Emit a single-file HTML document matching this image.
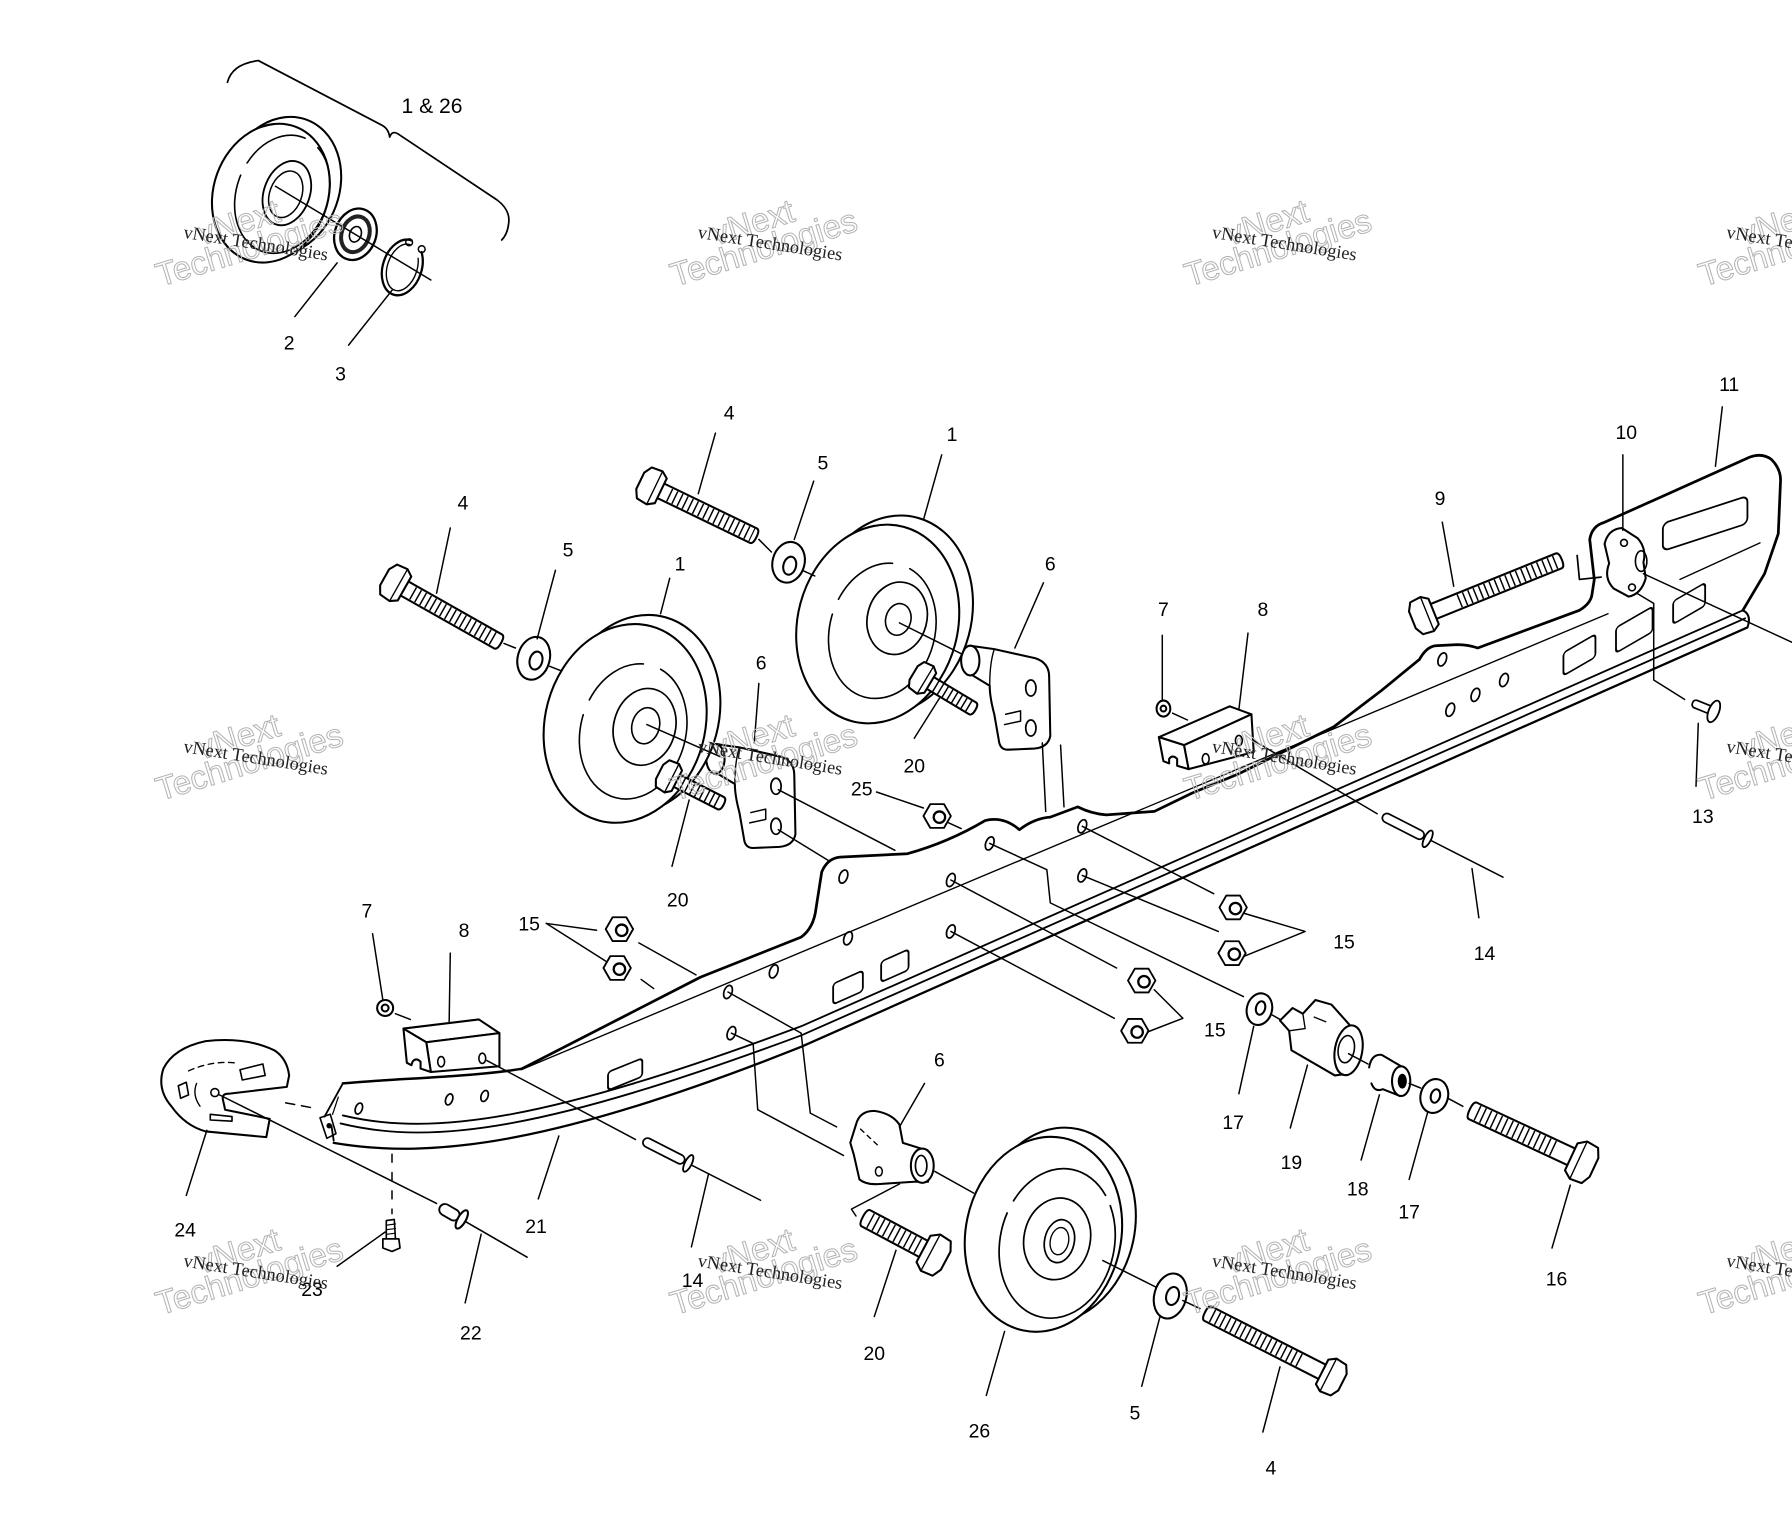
<!DOCTYPE html>
<html><head><meta charset="utf-8">
<style>
html,body{margin:0;padding:0;background:#fff;}
svg{display:block;}
</style></head><body>
<svg width="1792" height="1536" viewBox="0 0 1568 1344" xmlns="http://www.w3.org/2000/svg">
<rect width="1568" height="1344" fill="#fff"/>

<g fill="none" stroke="#000" stroke-width="1.8" stroke-linecap="round" stroke-linejoin="round">

<!-- ===== Top-left assembly ===== -->
<path d="M199,72 Q203,56 226,53 L335,110 Q340,113 341,120 Q343,114 348,117 L435,175 Q447,184 445,196 Q444,205 439,210" stroke-width="1.5"/>
<ellipse cx="247" cy="163" rx="50" ry="62" transform="rotate(20 247 163)" fill="#fff"/>
<ellipse cx="237" cy="169" rx="50" ry="62" transform="rotate(20 237 169)" fill="#fff"/>
<ellipse cx="247" cy="170" rx="40" ry="53" transform="rotate(20 247 170)" stroke-width="1.4" stroke-dasharray="150 12 60 14"/>
<ellipse cx="251" cy="169" rx="20" ry="29" transform="rotate(20 251 169)" stroke-width="1.6"/>
<ellipse cx="250" cy="170" rx="14" ry="21" transform="rotate(20 250 170)" stroke-width="1.3"/>
<ellipse cx="311" cy="205" rx="18" ry="23" transform="rotate(20 311 205)" fill="#fff" stroke-width="2"/>
<ellipse cx="311" cy="205" rx="12" ry="16" transform="rotate(20 311 205)" stroke-width="3.5" stroke="#222"/>
<ellipse cx="311" cy="205" rx="5" ry="7" transform="rotate(20 311 205)" stroke-width="1.4"/>
<line x1="241" y1="163" x2="377" y2="245" stroke-width="1.3"/>
<ellipse cx="352" cy="234" rx="17" ry="25" transform="rotate(18 352 234)" stroke-width="2" stroke-dasharray="100 14 40"/>
<ellipse cx="352" cy="234" rx="13" ry="21" transform="rotate(18 352 234)" stroke-width="1.2" stroke-dasharray="82 14 40"/>
<circle cx="358" cy="212" r="3" stroke-width="1.3"/>
<circle cx="369" cy="218" r="3" stroke-width="1.3"/>

<!-- ===== Rail ===== -->
<path d="M300,976 C380,995 480,980 701,898 L1525,534" stroke-width="1.6"/>
<path d="M298,983 C380,1003 480,988 701,906 L1527,541" stroke-width="1.6"/>
<path d="M292,1000 C380,1015 490,1000 701,916 L1529,549" stroke-width="2"/>
<path d="M1525,534 Q1533,538 1529,549"/>
<path d="M456,936 L1407,537" stroke-width="1.2"/>
<path d="M1470,507 L1540,475" stroke-width="1.2"/>
<path d="M300,948 C340,944 420,942 457,935" stroke-width="2.2"/>
<path d="M300,948 L284,977" stroke-width="1.6"/>
<path d="M296,960 L291,975" stroke-width="1.1"/>
<path d="M292,998 L290,985" stroke-width="1.6"/>
<path d="M280,978 L289,975 L294,992 L286,996 Z" stroke-width="1.4"/>
<circle cx="288" cy="985" r="1.5" fill="#000"/>
<path d="M457,935 L613,855 L701,820 Q712,812 714,795 L719,763 Q724,751 735,750 L794,747 Q830,737 862,718 Q878,714 892,726 Q905,716 919,715 L943,706 Q955,712 968,713 L1010,710 L1043,694 L1084,677 L1167,636 L1209,604 L1242,577 Q1248,566 1256,565 L1275,564 Q1285,564 1293,567 L1382,534 Q1392,528 1393,520 L1395,507 L1391,472 Q1393,460 1404,457 L1531,400 Q1542,396 1550,402 Q1558,410 1558,420 L1556,467 L1544,502 L1525,534" stroke-width="2.4"/>
<path d="M1380,486 L1382,507 L1401,505" stroke-width="1.5"/>

<!-- rail holes -->
<g stroke-width="1.5">
<ellipse cx="738" cy="767" rx="3.5" ry="6" transform="rotate(20 738 767)"/>
<ellipse cx="742" cy="821" rx="3.5" ry="6" transform="rotate(20 742 821)"/>
<ellipse cx="677" cy="850" rx="3.5" ry="6" transform="rotate(20 677 850)"/>
<ellipse cx="637" cy="868" rx="3.5" ry="6" transform="rotate(20 637 868)"/>
<ellipse cx="640" cy="904" rx="3.5" ry="6" transform="rotate(20 640 904)"/>
<ellipse cx="832" cy="770" rx="3.5" ry="6" transform="rotate(20 832 770)"/>
<ellipse cx="832" cy="815" rx="3.5" ry="6" transform="rotate(20 832 815)"/>
<ellipse cx="866" cy="738" rx="3.5" ry="6" transform="rotate(20 866 738)"/>
<ellipse cx="947" cy="723" rx="3.5" ry="6" transform="rotate(20 947 723)"/>
<ellipse cx="947" cy="766" rx="3.5" ry="6" transform="rotate(20 947 766)"/>
<ellipse cx="1262" cy="577" rx="3.5" ry="6" transform="rotate(20 1262 577)"/>
<ellipse cx="1269" cy="621" rx="3.5" ry="6" transform="rotate(20 1269 621)"/>
<ellipse cx="1291" cy="608" rx="3.5" ry="6" transform="rotate(20 1291 608)"/>
<ellipse cx="1316" cy="595" rx="3.5" ry="6" transform="rotate(20 1316 595)"/>
<ellipse cx="314" cy="970" rx="3" ry="5" transform="rotate(20 314 970)"/>
<ellipse cx="393" cy="962" rx="3" ry="5" transform="rotate(20 393 962)"/>
<ellipse cx="424" cy="959" rx="3" ry="5" transform="rotate(20 424 959)"/>
</g>
<!-- slots -->
<g stroke-width="1.6">
<rect x="-15" y="-8" width="30" height="16" rx="3" transform="translate(547,940) skewY(-22)"/>
<rect x="-13" y="-9" width="26" height="18" rx="3" transform="translate(742,864) skewY(-24)"/>
<rect x="-12" y="-9" width="24" height="18" rx="3" transform="translate(783,845) skewY(-24)"/>
<rect x="-14" y="-10" width="28" height="20" rx="3" transform="translate(1382,573) skewY(-30)"/>
<rect x="-16" y="-11" width="32" height="22" rx="3" transform="translate(1430,551) skewY(-30)"/>
<rect x="-14" y="-10" width="28" height="20" rx="3" transform="translate(1478,528) skewY(-30)"/>
<rect x="-37" y="-12" width="74" height="24" rx="5" transform="translate(1492,458) skewY(-18)"/>
</g>

<!-- Part 10 -->
<path d="M1404,476 Q1407,463 1419,462 L1433,471 Q1441,480 1438,492 L1440,506 Q1436,520 1425,522 L1412,515 Q1403,506 1408,493 Z" fill="#fff"/>
<circle cx="1421" cy="475" r="3" stroke-width="1.4"/>
<circle cx="1428" cy="514" r="3" stroke-width="1.4"/>
<ellipse cx="1436" cy="491" rx="5" ry="9" stroke-width="1.4"/>

<!-- Block 8 upper -->
<path d="M1014,645 L1076,618 L1095,625 L1036,652 Z" fill="#fff"/>
<path d="M1036,652 L1095,625 L1097,658 L1040,673 Z" fill="#fff"/>
<path d="M1014,645 L1036,652 L1040,673 L1030,670 L1030,664 Q1026,660 1023,664 L1023,668 L1018,666 Z" fill="#fff"/>
<ellipse cx="1055" cy="664" rx="3" ry="4.5" stroke-width="1.4"/>
<ellipse cx="1084" cy="648" rx="3" ry="4.5" stroke-width="1.4"/>

<!-- Block 8 lower -->
<path d="M353,900 L419,892 L437,904 L373,912 Z" fill="#fff"/>
<path d="M373,912 L437,904 L437,933 L377,938 Z" fill="#fff"/>
<path d="M353,900 L373,912 L377,938 L368,935 L368,929 Q364,925 361,929 L360,932 L356,930 Z" fill="#fff"/>
<ellipse cx="386" cy="929" rx="3" ry="4.5" stroke-width="1.4"/>
<ellipse cx="422" cy="926" rx="3" ry="4.5" stroke-width="1.4"/>

<!-- Part 24 -->
<path d="M251,951 L253,941 Q251,926 240,919 Q215,907 180,911 Q152,917 143,935 Q137,953 150,968 Q162,985 180,990 L233,995 L236,979 L197,971 L195,962 Q194,957 200,957 Z" fill="#fff"/>
<path d="M210,936 L230,931 L232,941 L212,945 Z" stroke-width="1.4"/>
<path d="M156,950 L163,947 L165,958 L158,961 Z" stroke-width="1.4"/>
<path d="M184,975 L203,977 L203,981 L184,980 Z" stroke-width="1.4"/>
<circle cx="188" cy="956" r="3.5" stroke-width="1.4"/>
<path d="M165,937 Q185,928 205,930" stroke-width="1.2" stroke-dasharray="5 4"/>
<path d="M175,968 Q168,958 172,948" stroke-width="1.2"/>

<!-- Brackets 6 (upper two) -->
<g>
 <path d="M849,565 L870,568 L906,576 Q918,580 918,592 L919,644 Q917,654 905,655 L882,656 Q875,656 874,648 L870,625 Q866,610 866,600 L851,591" fill="#fff"/>
 <ellipse cx="849" cy="578" rx="8" ry="13" fill="#fff"/>
 <path d="M880,625 L893,622 L893,631 L879,634" stroke-width="1.3"/>
 <ellipse cx="902" cy="602" rx="4.5" ry="7" stroke-width="1.5"/>
 <ellipse cx="902" cy="637" rx="4.5" ry="7" stroke-width="1.5"/>
 <path d="M870,568 Q866,580 866,600" stroke-width="1.2"/>
</g>
<g transform="translate(-223,86)">
 <path d="M849,565 L870,568 L906,576 Q918,580 918,592 L919,644 Q917,654 905,655 L882,656 Q875,656 874,648 L870,625 Q866,610 866,600 L851,591" fill="#fff"/>
 <ellipse cx="849" cy="578" rx="8" ry="13" fill="#fff"/>
 <path d="M880,625 L893,622 L893,631 L879,634" stroke-width="1.3"/>
 <ellipse cx="902" cy="602" rx="4.5" ry="7" stroke-width="1.5"/>
 <ellipse cx="902" cy="637" rx="4.5" ry="7" stroke-width="1.5"/>
 <path d="M870,568 Q866,580 866,600" stroke-width="1.2"/>
</g>

<!-- Bracket 6 lower -->
<path d="M749,984 Q752,972 765,972 Q780,974 787,984 L790,1000 L806,1005 L812,1034 L800,1034 L770,1036 Q758,1037 752,1032 L747,1010 L744,1000 Z" fill="#fff"/>
<ellipse cx="807" cy="1020" rx="10" ry="15" fill="#fff"/>
<ellipse cx="806" cy="1020" rx="5" ry="9" stroke-width="1.5"/>
<path d="M753,988 L770,1004" stroke-width="1.2" stroke-dasharray="4 4"/>
<ellipse cx="769" cy="1025" rx="3" ry="4" stroke-width="1.3"/>

<!-- Wheels -->
<g>
<ellipse cx="559" cy="625" rx="70" ry="88" transform="rotate(15 559 625)" fill="#fff"/>
<ellipse cx="547" cy="633" rx="70" ry="88" transform="rotate(15 547 633)" fill="#fff"/>
<ellipse cx="554" cy="640" rx="46" ry="60" transform="rotate(15 554 640)" stroke-width="1.4" stroke-dasharray="170 14 60 16"/>
<ellipse cx="564" cy="636" rx="27" ry="34" transform="rotate(15 564 636)" stroke-width="1.5"/>
<ellipse cx="565" cy="635" rx="12" ry="16" transform="rotate(15 565 635)" stroke-width="1.4"/>
</g>
<g>
<ellipse cx="780" cy="538" rx="70" ry="88" transform="rotate(15 780 538)" fill="#fff"/>
<ellipse cx="768" cy="546" rx="70" ry="88" transform="rotate(15 768 546)" fill="#fff"/>
<ellipse cx="772" cy="552" rx="46" ry="60" transform="rotate(15 772 552)" stroke-width="1.4" stroke-dasharray="170 14 60 16"/>
<ellipse cx="785" cy="541" rx="26" ry="32" transform="rotate(15 785 541)" stroke-width="1.5"/>
<ellipse cx="786" cy="542" rx="11" ry="14" transform="rotate(15 786 542)" stroke-width="1.4"/>
</g>
<g>
<ellipse cx="925" cy="1072" rx="68" ry="86" transform="rotate(12 925 1072)" fill="#fff"/>
<ellipse cx="913" cy="1080" rx="68" ry="86" transform="rotate(12 913 1080)" fill="#fff"/>
<ellipse cx="925" cy="1088" rx="50" ry="66" transform="rotate(12 925 1088)" stroke-width="1.5" stroke-dasharray="200 12 100 10"/>
<ellipse cx="925" cy="1084" rx="29" ry="36" transform="rotate(12 925 1084)" stroke-width="1.5"/>
<ellipse cx="927" cy="1086" rx="13" ry="19" transform="rotate(12 927 1086)" stroke-width="1.5"/>
<ellipse cx="927" cy="1086" rx="8" ry="12" transform="rotate(12 927 1086)" stroke-width="1.2"/>
</g>

<!-- Washers -->
<g fill="#fff">
<ellipse cx="690" cy="492" rx="14" ry="18" transform="rotate(15 690 492)"/>
<ellipse cx="691" cy="495" rx="5.5" ry="8" transform="rotate(15 691 495)"/>
<ellipse cx="467" cy="576" rx="14" ry="19" transform="rotate(15 467 576)"/>
<ellipse cx="469" cy="578" rx="5.5" ry="8" transform="rotate(15 469 578)"/>
<ellipse cx="1024" cy="1134" rx="14" ry="20" transform="rotate(15 1024 1134)"/>
<ellipse cx="1026" cy="1134" rx="5.5" ry="8" transform="rotate(15 1026 1134)"/>
<ellipse cx="1102" cy="883" rx="11" ry="14" transform="rotate(15 1102 883)"/>
<ellipse cx="1103" cy="882" rx="4" ry="6" transform="rotate(15 1103 882)"/>
<ellipse cx="1255" cy="959" rx="12" ry="15" transform="rotate(15 1255 959)"/>
<ellipse cx="1256" cy="959" rx="4" ry="6" transform="rotate(15 1256 959)"/>
<ellipse cx="1018" cy="620" rx="6" ry="7"/>
<circle cx="1018" cy="620" r="2.5"/>
<ellipse cx="337" cy="882" rx="7" ry="7"/>
<circle cx="337" cy="882" r="3"/>
</g>

<!-- Nuts -->
<g fill="#fff" stroke-width="1.6">
<g transform="translate(542,813)"><polygon points="12,0 6,10.4 -6,10.4 -12,0 -6,-10.4 6,-10.4"/><circle cx="2" cy="1" r="5" stroke-width="2"/></g>
<g transform="translate(540,847)"><polygon points="12,0 6,10.4 -6,10.4 -12,0 -6,-10.4 6,-10.4"/><circle cx="2" cy="1" r="5" stroke-width="2"/></g>
<g transform="translate(999,858)"><polygon points="12,0 6,10.4 -6,10.4 -12,0 -6,-10.4 6,-10.4"/><circle cx="2" cy="1" r="5" stroke-width="2"/></g>
<g transform="translate(993,902)"><polygon points="12,0 6,10.4 -6,10.4 -12,0 -6,-10.4 6,-10.4"/><circle cx="2" cy="1" r="5" stroke-width="2"/></g>
<g transform="translate(1079,794)"><polygon points="12,0 6,10.4 -6,10.4 -12,0 -6,-10.4 6,-10.4"/><circle cx="2" cy="1" r="5" stroke-width="2"/></g>
<g transform="translate(1078,834)"><polygon points="12,0 6,10.4 -6,10.4 -12,0 -6,-10.4 6,-10.4"/><circle cx="2" cy="1" r="5" stroke-width="2"/></g>
<g transform="translate(820,714)"><polygon points="12,0 6,10.4 -6,10.4 -12,0 -6,-10.4 6,-10.4"/><circle cx="2" cy="1" r="5" stroke-width="2"/></g>
</g>

<!-- Bolts -->
<g transform="translate(571,426) rotate(25.8)">
 <path d="M8,-7 L98,-7 Q101,-7 101,0 Q101,7 98,7 L8,7" fill="#fff"/>
 <line x1="16" y1="0" x2="97" y2="0" stroke-width="12" stroke-dasharray="1.3 3.7" stroke-linecap="butt"/>
 <path d="M-12,-8 L-8,-15 L2,-16 L8,-12 L8,12 L2,16 L-8,15 L-12,8 Z" fill="#fff"/>
 <path d="M2,-16 L2,16" stroke-width="1.2"/>
</g>
<g transform="translate(347,511) rotate(29.5)">
 <path d="M8,-7 L102,-7 Q105,-7 105,0 Q105,7 102,7 L8,7" fill="#fff"/>
 <line x1="16" y1="0" x2="101" y2="0" stroke-width="12" stroke-dasharray="1.3 3.7" stroke-linecap="butt"/>
 <path d="M-12,-8 L-8,-15 L2,-16 L8,-12 L8,12 L2,16 L-8,15 L-12,8 Z" fill="#fff"/>
 <path d="M2,-16 L2,16" stroke-width="1.2"/>
</g>
<g transform="translate(1247,538) rotate(-22)">
 <path d="M8,-7 L126,-7 Q129,-7 129,0 Q129,7 126,7 L8,7" fill="#fff"/>
 <line x1="32" y1="0" x2="125" y2="0" stroke-width="12" stroke-dasharray="1.3 3.7" stroke-linecap="butt"/>
 <path d="M-12,-8 L-8,-15 L2,-16 L8,-12 L8,12 L2,16 L-8,15 L-12,8 Z" fill="#fff"/>
 <path d="M2,-16 L2,16" stroke-width="1.2"/>
</g>
<g transform="translate(1383,1016) rotate(205)">
 <path d="M8,-8 L104,-8 Q107,-8 107,0 Q107,8 104,8 L8,8" fill="#fff"/>
 <line x1="26" y1="0" x2="103" y2="0" stroke-width="14" stroke-dasharray="1.3 3.9" stroke-linecap="butt"/>
 <path d="M-13,-9 L-9,-17 L2,-18 L9,-13 L9,13 L2,18 L-9,17 L-13,9 Z" fill="#fff"/>
 <path d="M2,-18 L2,18" stroke-width="1.2"/>
</g>
<g transform="translate(1164,1204) rotate(207)">
 <path d="M8,-7 L120,-7 Q123,-7 123,0 Q123,7 120,7 L8,7" fill="#fff"/>
 <line x1="30" y1="0" x2="119" y2="0" stroke-width="12" stroke-dasharray="1.3 3.7" stroke-linecap="butt"/>
 <path d="M-12,-8 L-8,-15 L2,-16 L8,-12 L8,12 L2,16 L-8,15 L-12,8 Z" fill="#fff"/>
 <path d="M2,-16 L2,16" stroke-width="1.2"/>
</g>
<g transform="translate(816,1097) rotate(208)">
 <path d="M8,-8 L66,-8 Q69,-8 69,0 Q69,8 66,8 L8,8" fill="#fff"/>
 <line x1="14" y1="0" x2="65" y2="0" stroke-width="14" stroke-dasharray="1.3 3.9" stroke-linecap="butt"/>
 <path d="M-13,-9 L-9,-17 L2,-18 L9,-13 L9,13 L2,18 L-9,17 L-13,9 Z" fill="#fff"/>
 <path d="M2,-18 L2,18" stroke-width="1.2"/>
</g>
<g transform="translate(808,594) rotate(31)">
 <path d="M7,-6 L50,-6 Q53,-6 53,0 Q53,6 50,6 L7,6" fill="#fff"/>
 <line x1="12" y1="0" x2="49" y2="0" stroke-width="11" stroke-dasharray="1.3 3.5" stroke-linecap="butt"/>
 <path d="M-10,-7 L-7,-13 L2,-14 L7,-10 L7,10 L2,14 L-7,13 L-10,7 Z" fill="#fff"/>
 <path d="M2,-14 L2,14" stroke-width="1.2"/>
</g>
<g transform="translate(586,680) rotate(27)">
 <path d="M7,-6 L50,-6 Q53,-6 53,0 Q53,6 50,6 L7,6" fill="#fff"/>
 <line x1="12" y1="0" x2="49" y2="0" stroke-width="11" stroke-dasharray="1.3 3.5" stroke-linecap="butt"/>
 <path d="M-10,-7 L-7,-13 L2,-14 L7,-10 L7,10 L2,14 L-7,13 L-10,7 Z" fill="#fff"/>
 <path d="M2,-14 L2,14" stroke-width="1.2"/>
</g>

<!-- Part 19 -->
<path d="M1120,893 L1131,882 L1140,887 L1151,875 L1165,879 L1182,898 L1176,940 L1168,941 L1130,919 L1128,902 Z" fill="#fff"/>
<path d="M1140,887 L1142,900 L1128,902 M1150,890 L1160,894" stroke-width="1.2"/>
<ellipse cx="1180" cy="919" rx="12" ry="22" transform="rotate(10 1180 919)" fill="#fff"/>
<ellipse cx="1178" cy="918" rx="7" ry="12" transform="rotate(10 1178 918)" stroke-width="1.4"/>

<!-- Part 18 -->
<path d="M1198,934 Q1200,922 1209,923 L1226,933 M1200,948 Q1203,956 1210,953 L1225,959" fill="none"/>
<ellipse cx="1226" cy="946" rx="8" ry="13" fill="#fff"/>
<ellipse cx="1227" cy="946" rx="3.5" ry="6" fill="#000" stroke-width="1"/>

<!-- Rivets 14 -->
<g transform="translate(1210,714) rotate(27)">
 <rect x="0" y="-4" width="40" height="8" rx="4" fill="#fff" stroke-width="1.5"/>
 <line x1="44" y1="0" x2="118" y2="0" stroke-width="1.3"/>
 <ellipse cx="44" cy="0" rx="3" ry="8" fill="#fff" stroke-width="1.6"/>
</g>
<g transform="translate(563,998) rotate(27)">
 <rect x="0" y="-4" width="40" height="8" rx="4" fill="#fff" stroke-width="1.5"/>
 <line x1="44" y1="0" x2="115" y2="0" stroke-width="1.3"/>
 <ellipse cx="44" cy="0" rx="3" ry="8" fill="#fff" stroke-width="1.6"/>
</g>
<!-- Rivet 22 -->
<g transform="translate(385,1056) rotate(30)">
 <rect x="0" y="-5" width="19" height="10" rx="5" fill="#fff" stroke-width="1.6"/>
 <line x1="22" y1="0" x2="88" y2="0" stroke-width="1.4"/>
 <ellipse cx="22" cy="0" rx="3.5" ry="9" fill="#fff" stroke-width="1.8"/>
</g>
<!-- Rivet 13 -->
<g transform="translate(1481,615) rotate(22)">
 <rect x="0" y="-3.5" width="18" height="7" rx="3" fill="#fff" stroke-width="1.5"/>
 <ellipse cx="20" cy="0" rx="4.5" ry="10" fill="#fff" stroke-width="1.6"/>
</g>
<!-- Screw 23 -->
<path d="M338,1068 L345,1067 L346,1084 L338,1084 Z" fill="#fff" stroke-width="1.4"/>
<path d="M338,1072 L346,1071 M338,1076 L346,1075 M338,1080 L346,1079" stroke-width="1"/>
<path d="M335,1084 L349,1084 L350,1092 L343,1095 L335,1092 Z" fill="#fff" stroke-width="1.5"/>

</g>

<!-- ===== Leader lines & connectors ===== -->
<g fill="none" stroke="#000" stroke-width="1.3" stroke-linecap="round" stroke-linejoin="round">
<line x1="295" y1="230" x2="258" y2="277"/>
<line x1="343" y1="254" x2="305" y2="302"/>
<line x1="626" y1="379" x2="611" y2="432"/>
<line x1="664" y1="472" x2="675" y2="483"/>
<line x1="712" y1="421" x2="695" y2="472"/>
<line x1="702" y1="499" x2="713" y2="504"/>
<line x1="824" y1="398" x2="808" y2="455"/>
<line x1="394" y1="462" x2="382" y2="519"/>
<line x1="441" y1="563" x2="451" y2="567"/>
<line x1="486" y1="499" x2="470" y2="559"/>
<line x1="481" y1="583" x2="491" y2="587"/>
<line x1="586" y1="506" x2="578" y2="537"/>
<line x1="913" y1="510" x2="888" y2="567"/>
<line x1="664" y1="598" x2="660" y2="650"/>
<line x1="800" y1="646" x2="822" y2="611"/>
<line x1="603" y1="700" x2="588" y2="758"/>
<line x1="767" y1="693" x2="808" y2="707"/>
<line x1="566" y1="634" x2="630" y2="662"/>
<line x1="787" y1="545" x2="841" y2="572"/>
<line x1="681" y1="691" x2="783" y2="744"/>
<line x1="681" y1="726" x2="725" y2="753"/>
<line x1="912" y1="650" x2="915" y2="710"/>
<line x1="928" y1="652" x2="931" y2="706"/>
<line x1="830" y1="720" x2="841" y2="725"/>
<line x1="478" y1="808" x2="522" y2="814"/>
<line x1="478" y1="808" x2="530" y2="841"/>
<line x1="559" y1="825" x2="609" y2="853"/>
<line x1="561" y1="857" x2="572" y2="865"/>
<line x1="326" y1="817" x2="335" y2="875"/>
<line x1="346" y1="887" x2="359" y2="892"/>
<line x1="394" y1="834" x2="393" y2="895"/>
<line x1="426" y1="928" x2="556" y2="997"/>
<line x1="605" y1="1091" x2="620" y2="1027"/>
<line x1="192" y1="958" x2="382" y2="1053"/>
<line x1="407" y1="1140" x2="421" y2="1080"/>
<line x1="250" y1="965" x2="277" y2="970" stroke-dasharray="8 6"/>
<line x1="343" y1="1010" x2="343" y2="1062" stroke-dasharray="7 9"/>
<line x1="295" y1="1108" x2="337" y2="1078"/>
<line x1="163" y1="1046" x2="181" y2="989"/>
<line x1="471" y1="1049" x2="489" y2="994"/>
<polyline points="637,868 701,904 709,974 732,986"/>
<polyline points="640,904 659,913 663,971 738,1011"/>
<line x1="832" y1="770" x2="977" y2="847"/>
<line x1="832" y1="815" x2="975" y2="891"/>
<polyline points="866,738 916,761 919,790 1088,872"/>
<line x1="947" y1="723" x2="1062" y2="782"/>
<line x1="947" y1="766" x2="1066" y2="815"/>
<polyline points="1088,799 1142,815 1088,837"/>
<polyline points="1010,866 1035,891 1004,903"/>
<line x1="1294" y1="803" x2="1288" y2="760"/>
<line x1="1097" y1="648" x2="1205" y2="712"/>
<line x1="1017" y1="556" x2="1017" y2="612"/>
<line x1="1026" y1="624" x2="1039" y2="630"/>
<line x1="1092" y1="554" x2="1084" y2="621"/>
<line x1="1262" y1="457" x2="1272" y2="513"/>
<line x1="1420" y1="398" x2="1420" y2="464"/>
<line x1="1507" y1="356" x2="1501" y2="408"/>
<polyline points="1432,519 1447,528 1447,595 1474,612"/>
<line x1="1438" y1="502" x2="1568" y2="562"/>
<line x1="1486" y1="633" x2="1484" y2="688"/>
<line x1="1084" y1="957" x2="1097" y2="898"/>
<line x1="1113" y1="888" x2="1120" y2="892"/>
<line x1="1129" y1="987" x2="1144" y2="932"/>
<line x1="1180" y1="922" x2="1197" y2="931"/>
<line x1="1191" y1="1015" x2="1207" y2="958"/>
<line x1="1233" y1="948" x2="1243" y2="952"/>
<line x1="1233" y1="1032" x2="1249" y2="974"/>
<line x1="1267" y1="961" x2="1280" y2="968"/>
<line x1="1358" y1="1092" x2="1374" y2="1037"/>
<line x1="809" y1="948" x2="787" y2="986"/>
<line x1="818" y1="1025" x2="852" y2="1044"/>
<polyline points="787,1036 745,1058 749,1064"/>
<line x1="784" y1="1094" x2="765" y2="1152"/>
<line x1="965" y1="1103" x2="1011" y2="1126"/>
<line x1="1035" y1="1138" x2="1050" y2="1145"/>
<line x1="999" y1="1213" x2="1015" y2="1152"/>
<line x1="1105" y1="1253" x2="1120" y2="1196"/>
<line x1="863" y1="1221" x2="879" y2="1165"/>
</g>

<!-- ===== Labels ===== -->
<g font-family="'Liberation Sans', Arial, sans-serif" font-size="17" fill="#000" text-anchor="middle">
<text x="378" y="99" font-size="18.5">1 &amp; 26</text>
<text x="253" y="306">2</text>
<text x="298" y="333">3</text>
<text x="638" y="367">4</text>
<text x="720" y="411">5</text>
<text x="833" y="386">1</text>
<text x="405" y="446">4</text>
<text x="497" y="487">5</text>
<text x="595" y="499">1</text>
<text x="919" y="499">6</text>
<text x="666" y="586">6</text>
<text x="1018" y="539">7</text>
<text x="1105" y="539">8</text>
<text x="1260" y="442">9</text>
<text x="1423" y="384">10</text>
<text x="1513" y="342">11</text>
<text x="800" y="676">20</text>
<text x="593" y="793">20</text>
<text x="754" y="696">25</text>
<text x="1490" y="720">13</text>
<text x="321" y="803">7</text>
<text x="406" y="820">8</text>
<text x="463" y="814">15</text>
<text x="1176" y="830">15</text>
<text x="1299" y="840">14</text>
<text x="1063" y="907">15</text>
<text x="822" y="933">6</text>
<text x="1079" y="988">17</text>
<text x="1130" y="1023">19</text>
<text x="1188" y="1046">18</text>
<text x="1233" y="1066">17</text>
<text x="1362" y="1125">16</text>
<text x="162" y="1082">24</text>
<text x="469" y="1079">21</text>
<text x="606" y="1126">14</text>
<text x="273" y="1134">23</text>
<text x="412" y="1172">22</text>
<text x="765" y="1190">20</text>
<text x="857" y="1258">26</text>
<text x="993" y="1242">5</text>
<text x="1112" y="1290">4</text>
</g>

<!-- ===== Watermarks ===== -->
<g font-family="'Liberation Sans', Arial, sans-serif" font-size="29" fill="none" stroke="#b4b4b4" stroke-width="0.9">
<g transform="translate(160,203) rotate(-17)"><text x="-33" y="40">Technologies</text><text x="12" y="16">vNext</text></g>
<g transform="translate(610,203) rotate(-17)"><text x="-33" y="40">Technologies</text><text x="12" y="16">vNext</text></g>
<g transform="translate(1060,203) rotate(-17)"><text x="-33" y="40">Technologies</text><text x="12" y="16">vNext</text></g>
<g transform="translate(1510,203) rotate(-17)"><text x="-33" y="40">Technologies</text><text x="12" y="16">vNext</text></g>
<g transform="translate(160,653) rotate(-17)"><text x="-33" y="40">Technologies</text><text x="12" y="16">vNext</text></g>
<g transform="translate(610,653) rotate(-17)"><text x="-33" y="40">Technologies</text><text x="12" y="16">vNext</text></g>
<g transform="translate(1060,653) rotate(-17)"><text x="-33" y="40">Technologies</text><text x="12" y="16">vNext</text></g>
<g transform="translate(1510,653) rotate(-17)"><text x="-33" y="40">Technologies</text><text x="12" y="16">vNext</text></g>
<g transform="translate(160,1103) rotate(-17)"><text x="-33" y="40">Technologies</text><text x="12" y="16">vNext</text></g>
<g transform="translate(610,1103) rotate(-17)"><text x="-33" y="40">Technologies</text><text x="12" y="16">vNext</text></g>
<g transform="translate(1060,1103) rotate(-17)"><text x="-33" y="40">Technologies</text><text x="12" y="16">vNext</text></g>
<g transform="translate(1510,1103) rotate(-17)"><text x="-33" y="40">Technologies</text><text x="12" y="16">vNext</text></g>
</g>
<g font-family="'Liberation Serif', 'Times New Roman', serif" font-size="16" fill="#222">
<text transform="translate(160,208) rotate(9)">vNext Technologies</text>
<text transform="translate(610,208) rotate(9)">vNext Technologies</text>
<text transform="translate(1060,208) rotate(9)">vNext Technologies</text>
<text transform="translate(1510,208) rotate(9)">vNext Technologies</text>
<text transform="translate(160,658) rotate(9)">vNext Technologies</text>
<text transform="translate(610,658) rotate(9)">vNext Technologies</text>
<text transform="translate(1060,658) rotate(9)">vNext Technologies</text>
<text transform="translate(1510,658) rotate(9)">vNext Technologies</text>
<text transform="translate(160,1108) rotate(9)">vNext Technologies</text>
<text transform="translate(610,1108) rotate(9)">vNext Technologies</text>
<text transform="translate(1060,1108) rotate(9)">vNext Technologies</text>
<text transform="translate(1510,1108) rotate(9)">vNext Technologies</text>
</g>
</svg>
</body></html>
